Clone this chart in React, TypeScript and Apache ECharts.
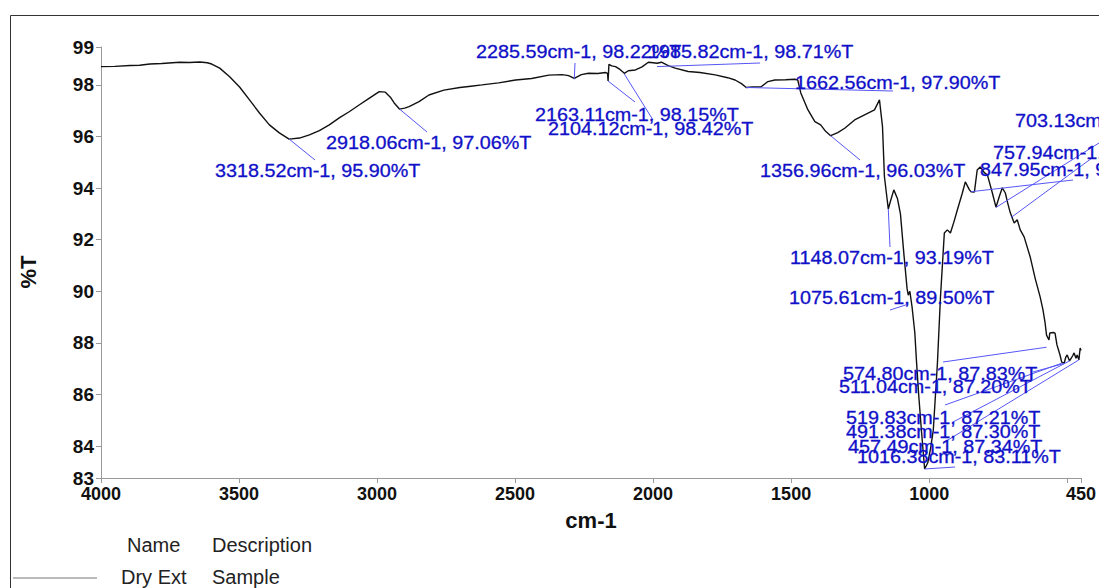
import React, { useEffect, useRef } from "react";
import * as echarts from "echarts";

// Spectrum (wavenumber cm-1, %T)
const wavenumbers = [
  4000, 3950, 3895, 3860, 3823, 3780, 3715, 3680, 3642, 3615, 3599, 3570, 3534, 3498, 3462, 3426, 3390, 3354,
  3318.52, 3281, 3245, 3209, 3173, 3137, 3101, 3065, 3029, 2992, 2970, 2950, 2938, 2918.06, 2900, 2884, 2848,
  2812, 2758, 2700, 2660, 2620, 2560, 2498, 2440, 2378, 2330, 2306, 2285.59, 2260, 2234, 2200, 2173, 2165,
  2163.11, 2160, 2150, 2136, 2120, 2104.12, 2090, 2064, 2040, 2017, 2000, 1985.82, 1970, 1945, 1920, 1873,
  1830, 1775, 1730, 1703, 1680, 1662.56, 1640, 1609, 1584, 1559, 1520, 1487, 1476, 1465, 1439, 1414, 1393,
  1375, 1356.96, 1331, 1306, 1270, 1234, 1198, 1180, 1169, 1162, 1148.07, 1140, 1128, 1115, 1104, 1092, 1080,
  1075.61, 1070, 1062, 1052, 1046, 1038, 1028, 1016.38, 1005, 995, 985, 970, 959, 945, 934, 923, 910, 898, 880,
  869, 854, 847.95, 836, 826, 815, 800, 789, 771, 757.94, 745, 735, 724, 715, 706, 692, 681, 670, 656, 634, 616,
  598, 588, 580, 574.8, 566, 563, 550, 544, 537, 526, 519.83, 511.04, 505, 500, 491.38, 480, 475, 468, 464,
  457.49, 453, 450,
];
const transmittance = [
  98.71, 98.72, 98.75, 98.76, 98.81, 98.83, 98.88, 98.87, 98.89, 98.86, 98.81, 98.65, 98.32, 97.92, 97.42, 96.91,
  96.45, 96.14, 95.9, 95.94, 96.06, 96.23, 96.45, 96.72, 96.96, 97.22, 97.48, 97.74, 97.72, 97.5, 97.3, 97.06,
  97.1, 97.16, 97.35, 97.61, 97.8, 97.9, 97.95, 98.0, 98.08, 98.19, 98.25, 98.38, 98.4, 98.36, 98.25, 98.4,
  98.45, 98.44, 98.48, 98.45, 98.15, 98.8, 98.74, 98.71, 98.6, 98.45, 98.55, 98.58, 98.7, 98.88, 98.86, 98.84,
  98.88, 98.75, 98.65, 98.52, 98.48, 98.39, 98.28, 98.19, 98.05, 97.9, 97.92, 97.93, 98.13, 98.19, 98.2, 98.22,
  98.19, 97.69, 97.03, 96.58, 96.45, 96.2, 96.03, 96.15, 96.32, 96.64, 96.84, 97.03, 97.42, 96.38, 94.44, 93.19,
  93.5, 93.93, 93.6, 93.0, 91.5, 90.1, 89.85, 90.0, 89.4, 88.4, 87.3, 86.0, 84.6, 83.11, 83.35, 83.9, 84.62,
  87.22, 89.78, 92.26, 92.38, 92.26, 92.7, 93.15, 93.8, 94.24, 93.93, 93.86, 93.85, 94.7, 94.82, 94.6, 94.51,
  93.81, 93.26, 93.7, 94.01, 93.81, 93.4, 93.04, 92.65, 92.77, 92.38, 92.11, 91.33, 90.5, 89.78, 89.3, 88.77,
  88.3, 88.11, 88.38, 88.4, 88.38, 87.92, 87.53, 87.25, 87.2, 87.45, 87.53, 87.3, 87.5, 87.61, 87.4, 87.53,
  87.34, 87.8, 87.7,
];

// Axis ticks and labels
const xLabelValues = [4000, 3500, 3000, 2500, 2000, 1500, 1000, 450];
const xTickValues = [4000, 3500, 3000, 2500, 2000, 1500, 1000, 500, 450];
const yMin = 82.76;
const yMax = 99.47;
const yLabelValues = [82.76, 84, 86, 88, 90, 92, 94, 96, 98, 99.47];

// Peak annotations
const peakWn = [
  3318.52, 2918.06, 2285.59, 1985.82, 2163.11, 2104.12, 1662.56, 1356.96, 1148.07, 1075.61, 574.8, 511.04,
  519.83, 491.38, 457.49, 1016.38, 703.13, 757.94, 847.95,
];
const peakT = [
  95.9, 97.06, 98.22, 98.71, 98.15, 98.42, 97.9, 96.03, 93.19, 89.5, 87.83, 87.2, 87.21, 87.3, 87.34, 83.11,
  92.86, 93.25, 93.86,
];

// Annotation label layout (pixel: text left, text centre y, leader end x, leader end y)
const labelLayout = [
  [215, 171, 315, 160],
  [326, 143, 427, 132],
  [476, 52, 575, 63],
  [648, 52, 760, 63],
  [535, 115, 635, 102],
  [548, 129, 653, 120],
  [795, 83, 893, 91],
  [760, 171, 860, 160],
  [790, 258, 890, 247],
  [789, 298, 890, 310],
  [843, 374, 943, 362],
  [839, 387, 1033, 372],
  [846, 418, 945, 405],
  [846, 432, 953, 422],
  [848, 447, 943, 443],
  [857, 457, 955, 467],
  [1015, 121, 1092, 158],
  [993, 153, 1099, 143],
  [980, 170, 1073, 180],
];

const FONT = "'Liberation Sans', Arial, sans-serif";
const BLUE = "#1010c8";
const LEADER = "#5656f6";

export default function App() {
  const ref = useRef<HTMLDivElement>(null);

  useEffect(() => {
    if (!ref.current) return;
    const chart = echarts.init(ref.current, undefined, { renderer: "svg" });
    const data = wavenumbers.map((w, i) => [w, transmittance[i]]);

    chart.setOption({
      animation: false,
      backgroundColor: "#ffffff",
      grid: { left: 101, top: 47, right: 16, bottom: 110, containLabel: false },
      xAxis: {
        type: "value",
        min: 450,
        max: 4000,
        inverse: true,
        axisLine: { show: true, lineStyle: { color: "#9a9a9a", width: 1 } },
        axisTick: { show: true, length: 5, lineStyle: { color: "#9a9a9a" }, customValues: xTickValues },
        axisLabel: {
          customValues: xLabelValues,
          margin: 7,
          color: "#111",
          fontFamily: FONT,
          fontWeight: "bold",
          fontSize: 18,
          formatter: (v: number) => String(Math.round(v)),
        },
        splitLine: { show: false },
      },
      yAxis: {
        type: "value",
        min: yMin,
        max: yMax,
        axisLine: { show: true, lineStyle: { color: "#9a9a9a", width: 1 } },
        axisTick: { show: true, length: 5, lineStyle: { color: "#9a9a9a" }, customValues: yLabelValues },
        axisLabel: {
          customValues: yLabelValues,
          margin: 7,
          color: "#111",
          fontFamily: FONT,
          fontWeight: "bold",
          fontSize: 19,
          formatter: (v: number) => String(Math.round(v)),
        },
        splitLine: { show: false },
      },
      series: [
        {
          type: "line",
          data,
          showSymbol: false,
          symbol: "none",
          lineStyle: { color: "#111", width: 1.4 },
          silent: true,
        },
      ],
    });

    const graphics: any[] = [
      {
        type: "rect",
        shape: { x: 10.5, y: 15.5, width: 1300, height: 800 },
        style: { fill: "none", stroke: "#333", lineWidth: 1 },
        silent: true,
      },
      {
        type: "text",
        x: 28,
        y: 272,
        rotation: Math.PI / 2,
        style: { text: "%T", fontFamily: FONT, fontWeight: "bold", fontSize: 22, fill: "#111", align: "center", verticalAlign: "middle" },
      },
      {
        type: "text",
        x: 591,
        y: 520,
        style: { text: "cm-1", fontFamily: FONT, fontWeight: "bold", fontSize: 22, fill: "#111", align: "center", verticalAlign: "middle" },
      },
      { type: "text", x: 127, y: 545, style: { text: "Name", fontFamily: FONT, fontSize: 20, fill: "#222", verticalAlign: "middle" } },
      { type: "text", x: 212, y: 545, style: { text: "Description", fontFamily: FONT, fontSize: 20, fill: "#222", verticalAlign: "middle" } },
      { type: "text", x: 121, y: 577, style: { text: "Dry Ext", fontFamily: FONT, fontSize: 20, fill: "#222", verticalAlign: "middle" } },
      { type: "text", x: 212, y: 577, style: { text: "Sample", fontFamily: FONT, fontSize: 20, fill: "#222", verticalAlign: "middle" } },
      {
        type: "line",
        shape: { x1: 13, y1: 578, x2: 97, y2: 578 },
        style: { stroke: "#777", lineWidth: 1 },
      },
    ];

    peakWn.forEach((w, i) => {
      const p = chart.convertToPixel({ xAxisIndex: 0, yAxisIndex: 0 }, [w, peakT[i]]) as number[];
      const [, , ex, ey] = labelLayout[i];
      graphics.push({
        type: "line",
        shape: { x1: p[0], y1: p[1], x2: ex, y2: ey },
        style: { stroke: LEADER, lineWidth: 1 },
        z: 10,
      });
    });
    peakWn.forEach((w, i) => {
      const [lx, ly] = labelLayout[i];
      graphics.push({
        type: "text",
        x: lx,
        y: ly,
        scaleX: 1.13,
        z: 11,
        style: {
          text: `${w.toFixed(2)}cm-1, ${peakT[i].toFixed(2)}%T`,
          fontFamily: FONT,
          fontSize: 17.5,
          fill: BLUE,
          stroke: BLUE,
          lineWidth: 0.3,
          align: "left",
          verticalAlign: "middle",
        },
      });
    });

    chart.setOption({ graphic: graphics });

    return () => chart.dispose();
  }, []);

  return (
    <div
      ref={ref}
      style={{ position: "fixed", left: 0, top: 0, width: 1099, height: 588, background: "#fff" }}
    />
  );
}
